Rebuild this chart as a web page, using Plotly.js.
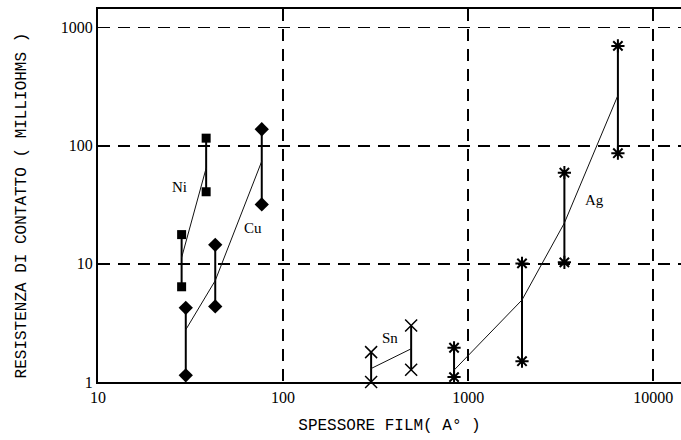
<!DOCTYPE html>
<html>
<head>
<meta charset="utf-8">
<script src="https://cdn.plot.ly/plotly-3.0.1.min.js"></script>
<style>
  html, body { margin: 0; padding: 0; background: #fff; }
  #chart { width: 681px; height: 440px; }
</style>
</head>
<body>
<div id="chart"></div>
<script>
// Contact resistance (milliohms) versus film thickness (Å) for several platings.
// Each thickness has a min/max range bar and a typical value joined by a line.

const niThickness = [28.3, 38.4];
const niMin = [6.4, 40.8];
const niMax = [17.7, 116];
const niMid = [11.3, 64.7];

const cuThickness = [29.8, 43, 76.7];
const cuMin = [1.14, 4.36, 31.9];
const cuMax = [4.25, 14.5, 138];
const cuMid = [2.77, 7.22, 74.0];

const snThickness = [299, 492];
const snMin = [1.0, 1.27];
const snMax = [1.79, 3.01];
const snMid = [1.30, 1.91];

const agThickness = [839, 1954, 3311, 6443];
const agMin = [1.10, 1.50, 10.3, 86.5];
const agMax = [1.95, 10.1, 59.2, 701];
const agMid = [1.26, 4.95, 22.2, 267];

const seriesNames = ['Ni', 'Cu', 'Sn', 'Ag'];
const labelX = [27.4, 68.7, 378, 4842];
const labelY = [44.7, 20.1, 2.35, 34.7];

const xTicks = [10, 100, 1000, 10000];
const yTicks = [1, 10, 100, 1000];

const series = [
  { t: niThickness, lo: niMin, hi: niMax, mid: niMid,
    marker: { symbol: 'square', size: 9, color: '#000' } },
  { t: cuThickness, lo: cuMin, hi: cuMax, mid: cuMid,
    marker: { symbol: 'diamond', size: 11, color: '#000' } },
  { t: snThickness, lo: snMin, hi: snMax, mid: snMid,
    marker: { symbol: 'x-thin-open', size: 12, color: '#000', line: { width: 1.5, color: '#000' } } },
  { t: agThickness, lo: agMin, hi: agMax, mid: agMid,
    marker: { symbol: 'asterisk-open', size: 11, color: '#000', line: { width: 2, color: '#000' } } }
];

const traces = [];
series.forEach((s, k) => {
  // vertical range bars, a marker at each end
  const bx = [], by = [];
  s.t.forEach((t, i) => {
    bx.push(t, t, null);
    by.push(s.lo[i], s.hi[i], null);
  });
  traces.push({
    x: bx, y: by, type: 'scatter', mode: 'lines+markers',
    name: seriesNames[k] + ' range', showlegend: false, hoverinfo: 'skip',
    line: { color: '#000', width: 2 },
    marker: s.marker, cliponaxis: false
  });
  // typical values joined by a thin line
  traces.push({
    x: s.t, y: s.mid, type: 'scatter', mode: 'lines',
    name: seriesNames[k], showlegend: false,
    line: { color: '#111', width: 1 }, cliponaxis: false
  });
});

const annotations = seriesNames.map((n, k) => ({
  x: Math.log10(labelX[k]), y: Math.log10(labelY[k]),
  xref: 'x', yref: 'y', text: n, showarrow: false,
  font: { family: 'Liberation Serif, serif', size: 15, color: '#000' }
}));

const axisFont = { family: 'Liberation Serif, serif', size: 16, color: '#000' };
const titleFont = { family: 'Liberation Mono, monospace', size: 16, color: '#000' };

// vertical axis title, placed as a rotated annotation
annotations.push({
  xref: 'paper', yref: 'paper', x: -0.13, y: 0.474,
  xanchor: 'center', yanchor: 'middle', textangle: -90,
  text: 'RESISTENZA DI CONTATTO ( MILLIOHMS )', showarrow: false,
  font: titleFont
});

const layout = {
  width: 681, height: 440,
  margin: { l: 98, r: 0, t: 9, b: 58 },
  paper_bgcolor: '#fff', plot_bgcolor: '#fff',
  showlegend: false,
  xaxis: {
    type: 'log', range: [1, 4.15],
    tickvals: xTicks, ticktext: xTicks.map(String),
    tickfont: axisFont, ticks: '',
    showgrid: true, gridcolor: '#000', gridwidth: 1.5, griddash: '12px,8px',
    showline: true, linecolor: '#000', linewidth: 2, mirror: true,
    zeroline: false,
    title: { text: 'SPESSORE FILM( A° )', font: titleFont, standoff: 14 }
  },
  yaxis: {
    type: 'log', range: [0, 3.158],
    tickvals: yTicks, ticktext: yTicks.map(String),
    tickfont: axisFont, ticks: '',
    showgrid: true, gridcolor: '#000', gridwidth: 1.5, griddash: '12px,8px',
    showline: true, linecolor: '#000', linewidth: 2, mirror: false,
    zeroline: false
  },
  annotations: annotations
};

Plotly.newPlot('chart', traces, layout, { staticPlot: true, displayModeBar: false });
</script>
</body>
</html>
